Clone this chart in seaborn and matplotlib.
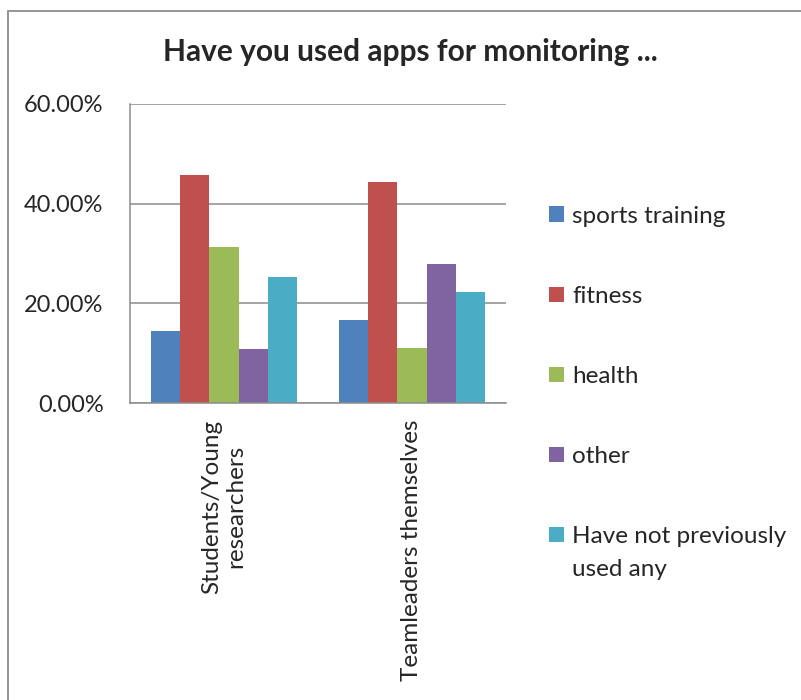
import pandas as pd
import matplotlib
matplotlib.use("Agg")
import matplotlib.pyplot as plt
import seaborn as sns
from matplotlib.patches import Rectangle
from matplotlib.ticker import PercentFormatter

# data
groups = ["Students/Young\nresearchers", "Teamleaders themselves"]
apps = ["sports training", "fitness", "health", "other",
        "Have not previously"]
last_label_tail = "used any"
students = [14.5, 45.7, 31.3, 10.8, 25.3]
teamleaders = [16.7, 44.4, 11.1, 27.8, 22.2]
colors = ["#4F81BD", "#C0504D", "#9BBB59", "#8064A2", "#4BACC6"]

rows = []
for g, vals in zip(groups, [students, teamleaders]):
    for a, v in zip(apps, vals):
        rows.append({"group": g, "app": a, "value": v})
df = pd.DataFrame(rows)

sns.set_style("white")
plt.rcParams["font.family"] = ["Lato", "DejaVu Sans"]

W, H = 801, 700
fig = plt.figure(figsize=(W / 100, H / 100), dpi=100)

# chart frame
fig.patches.append(Rectangle((8 / W, -0.05), 1.1, 1 - 11 / H + 0.05,
                             transform=fig.transFigure, fill=False,
                             edgecolor="#8C8C8C", linewidth=1.3, zorder=0))

ax = fig.add_axes([130 / W, 1 - 403 / H, 376 / W, 299 / H])

sns.barplot(data=df, x="group", y="value", hue="app", palette=colors,
            saturation=1, width=0.775, linewidth=0, ax=ax)

ax.set_ylim(0, 60)
ax.set_yticks([0, 20, 40, 60])
ax.yaxis.set_major_formatter(PercentFormatter(decimals=2))
ax.grid(axis="y", color="#8C8C8C", linewidth=1.1)
ax.set_axisbelow(True)
ax.set_xlim(-0.5, 1.5)
ax.set_xticks([-0.5, 0.5, 1.5], minor=False)
ax.set_xticklabels(["", "", ""])
ax.set_xticks([0, 1], minor=True)
ax.set_xticklabels(groups, minor=True, rotation=90, fontsize=17.5,
                   multialignment="center")
ax.tick_params(axis="x", which="minor", length=0, pad=12)
ax.tick_params(axis="x", which="major", length=6, width=1.1,
               color="#8C8C8C", direction="out")
ax.tick_params(axis="y", length=6, width=1.1, color="#8C8C8C",
               direction="out", labelsize=17, pad=13)
ax.set_xlabel("")
ax.set_ylabel("")
for side in ["top", "right"]:
    ax.spines[side].set_visible(False)
for side in ["left", "bottom"]:
    ax.spines[side].set_color("#8C8C8C")
    ax.spines[side].set_linewidth(1.1)

handles, labels = ax.get_legend_handles_labels()
leg = ax.legend(handles, labels, loc="upper left",
                bbox_to_anchor=(527 / W, 1 - 184 / H),
                bbox_transform=fig.transFigure, frameon=False, fontsize=17.5,
                handlelength=0.62, handleheight=0.62, handletextpad=0.35,
                labelspacing=2.43)

fig.text(410 / W, 1 - 52 / H, "Have you used apps for monitoring ...",
         ha="center", va="center", fontsize=21.5, fontweight="bold")

# second line of the last legend entry, aligned under its first line
fig.canvas.draw()
bb = leg.get_texts()[-1].get_window_extent()
fig.text(bb.x0 / W, (bb.y0 - 33) / H, last_label_tail,
         ha="left", va="bottom", fontsize=17.5)

fig.savefig("out.png", dpi=100)
